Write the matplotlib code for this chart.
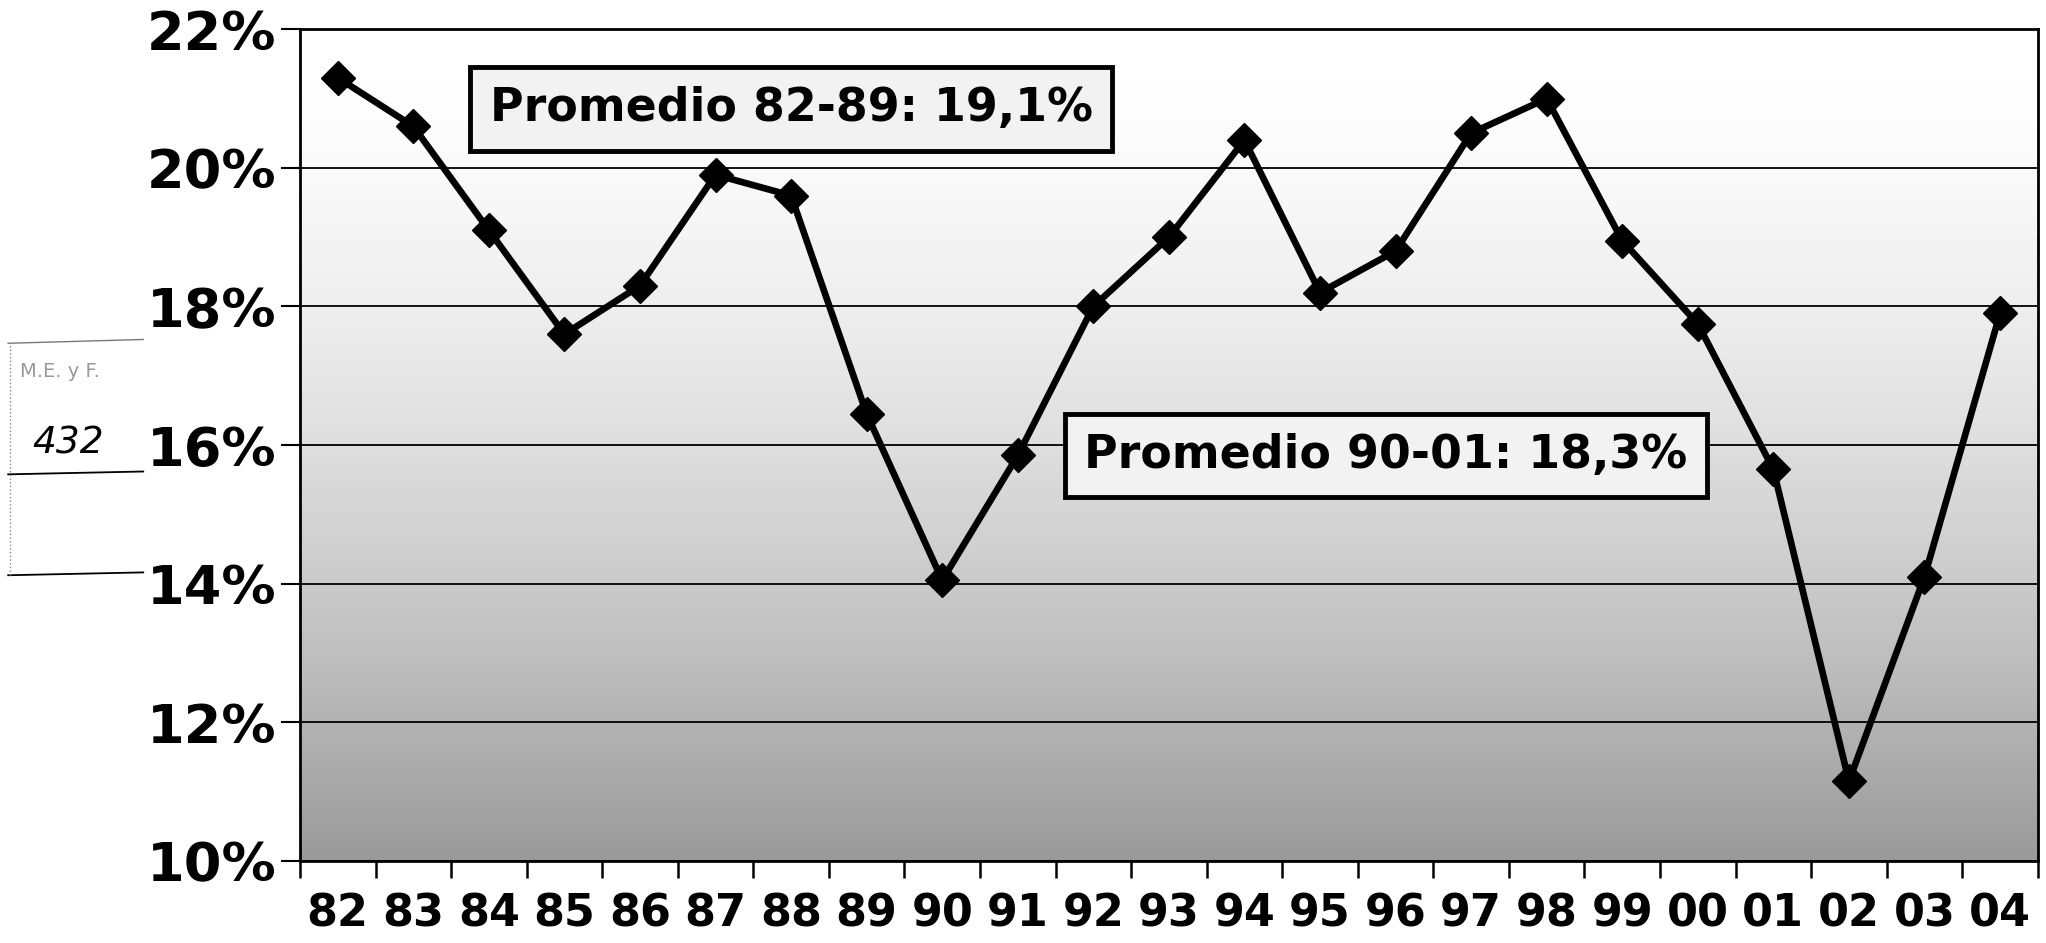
import numpy as np
import matplotlib
matplotlib.use("Agg")
import matplotlib.pyplot as plt
from matplotlib.ticker import FixedLocator, FuncFormatter
from matplotlib.lines import Line2D

years = ["82", "83", "84", "85", "86", "87", "88", "89", "90", "91", "92", "93",
         "94", "95", "96", "97", "98", "99", "00", "01", "02", "03", "04"]
values = [21.3, 20.6, 19.1, 17.6, 18.3, 19.9, 19.6, 16.45, 14.05, 15.85, 18.0, 19.0,
          20.4, 18.2, 18.8, 20.5, 21.0, 18.95, 17.75, 15.65, 11.15, 14.1, 17.9]
y_ticks = [10, 12, 14, 16, 18, 20, 22]
notes = ["Promedio 82-89: 19,1%", "Promedio 90-01: 18,3%"]

plt.rcParams["font.family"] = ["DejaVu Sans"]
plt.rcParams["font.weight"] = "bold"

fig = plt.figure(figsize=(20.46, 9.43), dpi=100)
ax = fig.add_axes([0.1466, 0.087, 0.8494, 0.882])

x = np.arange(len(years))
ax.set_xlim(-0.5, len(years) - 0.5)
ax.set_ylim(10, 22)

# shaded background, light at the top and darker towards the bottom
grad = np.linspace(0, 1, 256).reshape(-1, 1)
shade = 1.0 - 0.40 * grad ** 1.6
ax.imshow(shade, cmap="gray", vmin=0, vmax=1, aspect="auto",
          extent=[-0.5, len(years) - 0.5, 10, 22], zorder=0, origin="upper")

ax.plot(x, values, color="black", lw=4.8, marker="D", ms=17, zorder=3)

ax.yaxis.set_major_locator(FixedLocator(y_ticks))
ax.yaxis.set_major_formatter(FuncFormatter(lambda v, p: "%d%%" % v))
ax.grid(axis="y", color="black", lw=1.3, zorder=1)
ax.tick_params(axis="y", length=14, width=1.5, labelsize=39, pad=3)

ax.set_xticks(x)
ax.set_xticklabels(years)
ax.set_xticks(np.arange(-0.5, len(years), 1), minor=True)
ax.tick_params(axis="x", which="major", length=0, labelsize=32, pad=23)
ax.tick_params(axis="x", which="minor", length=12, width=1.8)

for s in ax.spines.values():
    s.set_linewidth(2)

box = dict(boxstyle="square,pad=0.42", fc="#f2f2f2", ec="black", lw=3.5)
ax.text(6.0, 20.85, notes[0], fontsize=33, weight="bold", ha="center",
        va="center", bbox=box, zorder=4)
ax.text(13.87, 15.85, notes[1], fontsize=33, weight="bold", ha="center",
        va="center", bbox=box, zorder=4)

# stamp on the left margin of the scanned page
fig.text(0.010, 0.606, "M.E. y F.", fontsize=14, color="#999999",
         weight="normal", ha="left", va="center")
fig.text(0.016, 0.530, "432", fontsize=27, style="italic", weight="normal",
         color="black", ha="left", va="center")
fig.add_artist(Line2D([0.004, 0.070], [0.636, 0.640], color="#777777", lw=1))
fig.add_artist(Line2D([0.004, 0.070], [0.497, 0.500], color="black", lw=1.3))
fig.add_artist(Line2D([0.004, 0.070], [0.390, 0.393], color="black", lw=1.3))
fig.add_artist(Line2D([0.005, 0.005], [0.390, 0.636], color="#888888", lw=1,
                      ls=":"))

fig.savefig("out.png", dpi=100)
